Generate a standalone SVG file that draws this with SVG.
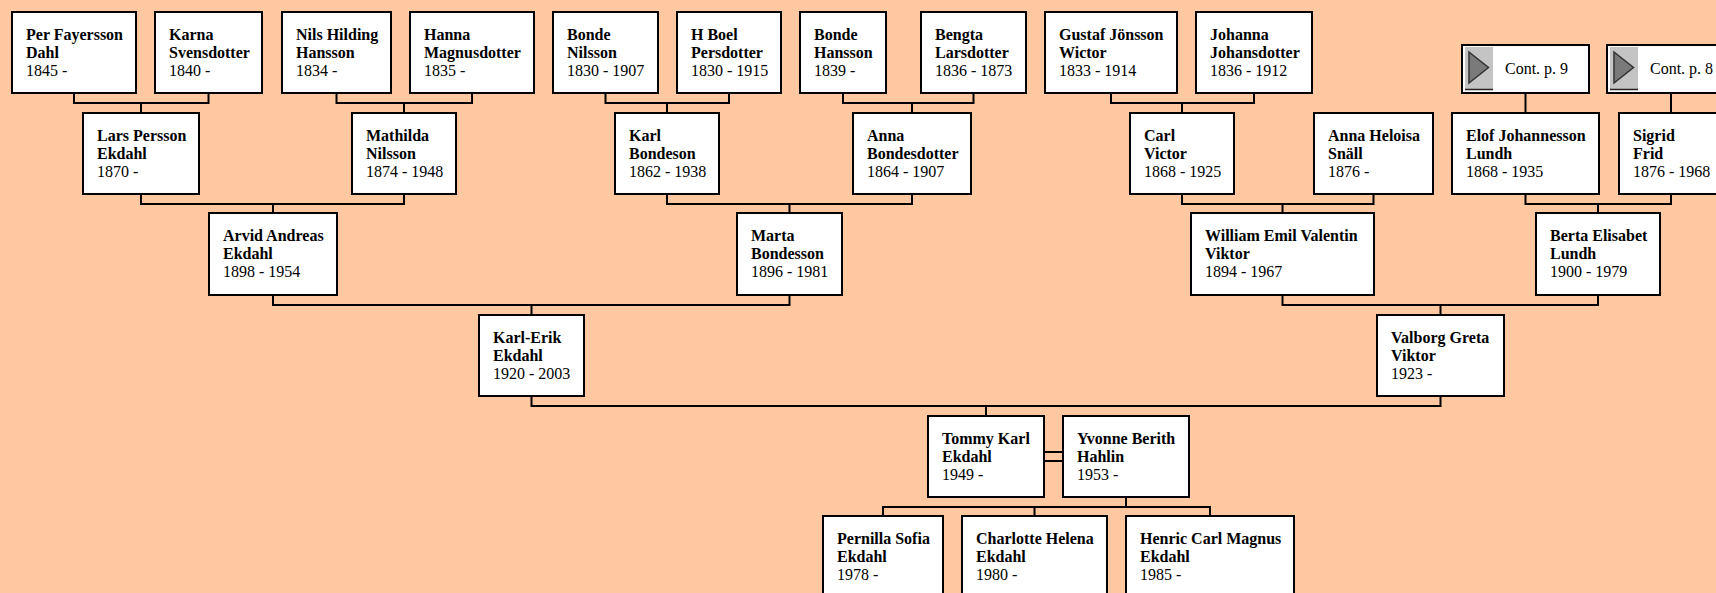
<svg xmlns="http://www.w3.org/2000/svg" width="1716" height="593" viewBox="0 0 1716 593">
<style>
.bg{fill:#FFC8A0}
.box{fill:#fff;stroke:#000;stroke-width:2}
.n{font-family:"Liberation Serif","Times New Roman",serif;font-size:16px;font-weight:bold;fill:#000}
.d{font-family:"Liberation Serif","Times New Roman",serif;font-size:16px;fill:#000}
.c{fill:none;stroke:#000;stroke-width:2}
.btn{fill:#c4c4c4}
.tri{fill:#7a7a7a;stroke:#333;stroke-width:1.5}
</style>
<rect class="bg" x="0" y="0" width="1716" height="593"/>

<g id="connectors">
<path class="c" d="M74 93V103H208.5V93M141 103V113"/>
<path class="c" d="M336.5 93V103H472V93M404 103V113"/>
<path class="c" d="M605.5 93V103H729V93M667 103V113"/>
<path class="c" d="M843 93V103H973.5V93M912 103V113"/>
<path class="c" d="M1111 93V103H1254V93M1182 103V113"/>
<path class="c" d="M1525.5 93V113"/>
<path class="c" d="M1671 93V113"/>
<path class="c" d="M141 194V204H404V194M273 204V213"/>
<path class="c" d="M667 194V204H912V194M789.5 204V213"/>
<path class="c" d="M1182 194V204H1373.5V194M1282.5 204V213"/>
<path class="c" d="M1525.5 194V204H1671V194M1598 204V213"/>
<path class="c" d="M273 295V305H789.5V295M531.5 305V315"/>
<path class="c" d="M1282.5 295V305H1598V295M1440.5 305V315"/>
<path class="c" d="M531.5 396V406H1440.5V396M986 406V416"/>
<path class="c" d="M1044 452H1063M1044 461H1063"/>
<path class="c" d="M1126 497V507M883 516V507H1210V516M1034.5 507V516"/>
</g>

<g id="per"><rect class="box" x="12" y="12" width="124" height="81"/><text class="n" x="26" y="40">Per Fayersson</text><text class="n" x="26" y="58">Dahl</text><text class="d" x="26" y="76">1845 -</text></g>
<g id="karna"><rect class="box" x="155" y="12" width="107" height="81"/><text class="n" x="169" y="40">Karna</text><text class="n" x="169" y="58">Svensdotter</text><text class="d" x="169" y="76">1840 -</text></g>
<g id="nils"><rect class="box" x="282" y="12" width="109" height="81"/><text class="n" x="296" y="40">Nils Hilding</text><text class="n" x="296" y="58">Hansson</text><text class="d" x="296" y="76">1834 -</text></g>
<g id="hanna"><rect class="box" x="410" y="12" width="124" height="81"/><text class="n" x="424" y="40">Hanna</text><text class="n" x="424" y="58">Magnusdotter</text><text class="d" x="424" y="76">1835 -</text></g>
<g id="bonde-nilsson"><rect class="box" x="553" y="12" width="105" height="81"/><text class="n" x="567" y="40">Bonde</text><text class="n" x="567" y="58">Nilsson</text><text class="d" x="567" y="76">1830 - 1907</text></g>
<g id="h-boel"><rect class="box" x="677" y="12" width="104" height="81"/><text class="n" x="691" y="40">H Boel</text><text class="n" x="691" y="58">Persdotter</text><text class="d" x="691" y="76">1830 - 1915</text></g>
<g id="bonde-hansson"><rect class="box" x="800" y="12" width="86" height="81"/><text class="n" x="814" y="40">Bonde</text><text class="n" x="814" y="58">Hansson</text><text class="d" x="814" y="76">1839 -</text></g>
<g id="bengta"><rect class="box" x="921" y="12" width="105" height="81"/><text class="n" x="935" y="40">Bengta</text><text class="n" x="935" y="58">Larsdotter</text><text class="d" x="935" y="76">1836 - 1873</text></g>
<g id="gustaf"><rect class="box" x="1045" y="12" width="132" height="81"/><text class="n" x="1059" y="40">Gustaf Jönsson</text><text class="n" x="1059" y="58">Wictor</text><text class="d" x="1059" y="76">1833 - 1914</text></g>
<g id="johanna"><rect class="box" x="1196" y="12" width="116" height="81"/><text class="n" x="1210" y="40">Johanna</text><text class="n" x="1210" y="58">Johansdotter</text><text class="d" x="1210" y="76">1836 - 1912</text></g>

<g id="cont9"><rect class="box" x="1462" y="45" width="127" height="48"/><rect class="btn" x="1465" y="47" width="28" height="42"/><path d="M1465 89.5H1493" stroke="#222" stroke-width="1.5"/><polygon class="tri" points="1469,52 1488.5,67.5 1469,83"/><text class="d" x="1505" y="74">Cont. p. 9</text></g>
<g id="cont8"><rect class="box" x="1607" y="45" width="127" height="48"/><rect class="btn" x="1610" y="47" width="28" height="42"/><path d="M1610 89.5H1638" stroke="#222" stroke-width="1.5"/><polygon class="tri" points="1614,52 1633.5,67.5 1614,83"/><text class="d" x="1650" y="74">Cont. p. 8</text></g>

<g id="lars"><rect class="box" x="83" y="113" width="116" height="81"/><text class="n" x="97" y="141">Lars Persson</text><text class="n" x="97" y="159">Ekdahl</text><text class="d" x="97" y="177">1870 -</text></g>
<g id="mathilda"><rect class="box" x="352" y="113" width="104" height="81"/><text class="n" x="366" y="141">Mathilda</text><text class="n" x="366" y="159">Nilsson</text><text class="d" x="366" y="177">1874 - 1948</text></g>
<g id="karl-bondeson"><rect class="box" x="615" y="113" width="104" height="81"/><text class="n" x="629" y="141">Karl</text><text class="n" x="629" y="159">Bondeson</text><text class="d" x="629" y="177">1862 - 1938</text></g>
<g id="anna-bondesdotter"><rect class="box" x="853" y="113" width="118" height="81"/><text class="n" x="867" y="141">Anna</text><text class="n" x="867" y="159">Bondesdotter</text><text class="d" x="867" y="177">1864 - 1907</text></g>
<g id="carl-victor"><rect class="box" x="1130" y="113" width="104" height="81"/><text class="n" x="1144" y="141">Carl</text><text class="n" x="1144" y="159">Victor</text><text class="d" x="1144" y="177">1868 - 1925</text></g>
<g id="anna-heloisa"><rect class="box" x="1314" y="113" width="119" height="81"/><text class="n" x="1328" y="141">Anna Heloisa</text><text class="n" x="1328" y="159">Snäll</text><text class="d" x="1328" y="177">1876 -</text></g>
<g id="elof"><rect class="box" x="1452" y="113" width="147" height="81"/><text class="n" x="1466" y="141">Elof Johannesson</text><text class="n" x="1466" y="159">Lundh</text><text class="d" x="1466" y="177">1868 - 1935</text></g>
<g id="sigrid"><rect class="box" x="1619" y="113" width="104" height="81"/><text class="n" x="1633" y="141">Sigrid</text><text class="n" x="1633" y="159">Frid</text><text class="d" x="1633" y="177">1876 - 1968</text></g>

<g id="arvid"><rect class="box" x="209" y="213" width="128" height="82"/><text class="n" x="223" y="241">Arvid Andreas</text><text class="n" x="223" y="259">Ekdahl</text><text class="d" x="223" y="277">1898 - 1954</text></g>
<g id="marta"><rect class="box" x="737" y="213" width="105" height="82"/><text class="n" x="751" y="241">Marta</text><text class="n" x="751" y="259">Bondesson</text><text class="d" x="751" y="277">1896 - 1981</text></g>
<g id="william"><rect class="box" x="1191" y="213" width="183" height="82"/><text class="n" x="1205" y="241">William Emil Valentin</text><text class="n" x="1205" y="259">Viktor</text><text class="d" x="1205" y="277">1894 - 1967</text></g>
<g id="berta"><rect class="box" x="1536" y="213" width="124" height="82"/><text class="n" x="1550" y="241">Berta Elisabet</text><text class="n" x="1550" y="259">Lundh</text><text class="d" x="1550" y="277">1900 - 1979</text></g>

<g id="karl-erik"><rect class="box" x="479" y="315" width="105" height="81"/><text class="n" x="493" y="343">Karl-Erik</text><text class="n" x="493" y="361">Ekdahl</text><text class="d" x="493" y="379">1920 - 2003</text></g>
<g id="valborg"><rect class="box" x="1377" y="315" width="127" height="81"/><text class="n" x="1391" y="343">Valborg Greta</text><text class="n" x="1391" y="361">Viktor</text><text class="d" x="1391" y="379">1923 -</text></g>

<g id="tommy"><rect class="box" x="928" y="416" width="116" height="81"/><text class="n" x="942" y="444">Tommy Karl</text><text class="n" x="942" y="462">Ekdahl</text><text class="d" x="942" y="480">1949 -</text></g>
<g id="yvonne"><rect class="box" x="1063" y="416" width="126" height="81"/><text class="n" x="1077" y="444">Yvonne Berith</text><text class="n" x="1077" y="462">Hahlin</text><text class="d" x="1077" y="480">1953 -</text></g>

<g id="pernilla"><rect class="box" x="823" y="516" width="120" height="81"/><text class="n" x="837" y="544">Pernilla Sofia</text><text class="n" x="837" y="562">Ekdahl</text><text class="d" x="837" y="580">1978 -</text></g>
<g id="charlotte"><rect class="box" x="962" y="516" width="145" height="81"/><text class="n" x="976" y="544">Charlotte Helena</text><text class="n" x="976" y="562">Ekdahl</text><text class="d" x="976" y="580">1980 -</text></g>
<g id="henric"><rect class="box" x="1126" y="516" width="168" height="81"/><text class="n" x="1140" y="544">Henric Carl Magnus</text><text class="n" x="1140" y="562">Ekdahl</text><text class="d" x="1140" y="580">1985 -</text></g>
</svg>
